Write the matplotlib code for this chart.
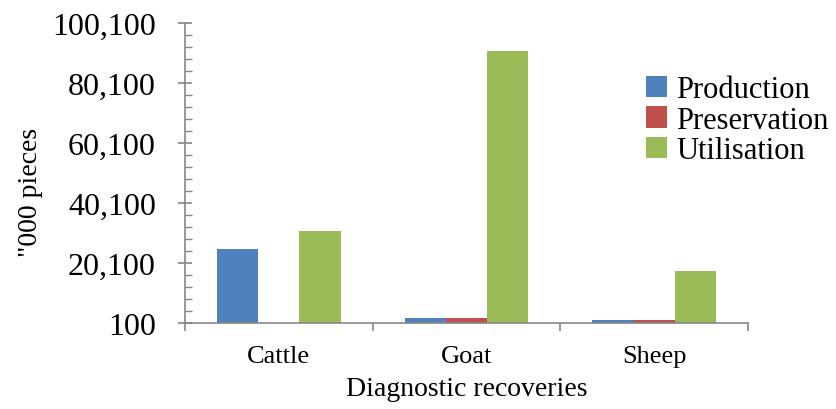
import numpy as np
import matplotlib.pyplot as plt
from matplotlib.ticker import FuncFormatter, FixedLocator

# ================================
# Data
# ================================
animals = ["Cattle", "Goat", "Sheep"]
production = [24900, 1800, 1100]
preservation = [0, 1800, 1100]
utilisation = [30800, 90800, 17500]

series_names = ["Production", "Preservation", "Utilisation"]
colors = ["#4F81BD", "#C0504D", "#9BBB59"]

plt.rcParams["font.family"] = "serif"
plt.rcParams["font.serif"] = ["Liberation Serif", "Times New Roman", "DejaVu Serif"]

# ================================
# Plot
# ================================
fig = plt.figure(figsize=(8.37, 4.10), dpi=100)
ax = fig.add_axes([185 / 837, 86 / 410, 563 / 837, 300 / 410])

x = np.arange(len(animals))
width = 0.22
for i, vals in enumerate([production, preservation, utilisation]):
    ax.bar(x + (i - 1) * width, vals, width, color=colors[i], label=series_names[i])

ax.set_xlim(-0.5, len(animals) - 0.5)
ax.set_ylim(100, 100100)
ax.set_yticks(np.arange(100, 100101, 20000))
ax.yaxis.set_minor_locator(FixedLocator(np.arange(100, 100101, 4000)))
ax.yaxis.set_major_formatter(FuncFormatter(lambda v, p: f"{int(round(v)):,}"))

ax.set_xticks(x)
ax.set_xticklabels(animals, fontsize=19)
ax.xaxis.set_minor_locator(FixedLocator(np.arange(-0.5, len(animals), 1.0)))
ax.tick_params(axis="x", which="major", length=0, pad=16)
ax.tick_params(axis="x", which="minor", length=6, direction="out", color="#868686", width=1.2)
ax.tick_params(axis="y", which="major", direction="inout", length=10, color="#868686",
               width=1.2, labelsize=23, pad=16)
ax.tick_params(axis="y", which="minor", direction="in", length=5, color="#868686", width=1.0)

for side in ["top", "right"]:
    ax.spines[side].set_visible(False)
for side in ["left", "bottom"]:
    ax.spines[side].set_color("#868686")
    ax.spines[side].set_linewidth(1.2)

ax.set_xlabel("Diagnostic recoveries", fontsize=20, labelpad=6)
ax.set_ylabel('"000 pieces', fontsize=20)
ax.yaxis.set_label_coords(-0.252, 0.44)

ax.legend(loc="upper left", bbox_to_anchor=(646 / 837, 1 - 76 / 410),
          bbox_transform=fig.transFigure, frameon=False, fontsize=22,
          handlelength=0.7, handleheight=0.7, handletextpad=0.3,
          labelspacing=0.05, borderpad=0, borderaxespad=0)

fig.savefig("out.png", dpi=100)
